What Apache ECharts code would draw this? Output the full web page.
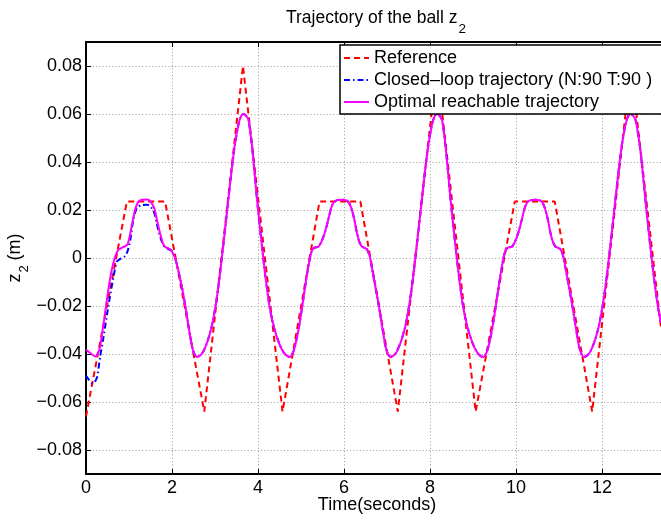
<!DOCTYPE html>
<html>
<head>
<meta charset="utf-8">
<script src="https://cdn.jsdelivr.net/npm/echarts@6/dist/echarts.min.js"></script>
<style>html,body{margin:0;padding:0;background:#fff}#c{width:661px;height:520px}</style>
</head>
<body>
<div id="c"></div>
<script>
const timeTicks = [0, 2, 4, 6, 8, 10, 12];
const timeTickLabels = ['0', '2', '4', '6', '8', '10', '12'];
const zTicks = [-0.08, -0.06, -0.04, -0.02, 0, 0.02, 0.04, 0.06, 0.08];
const zTickLabels = ['\u22120.08', '\u22120.06', '\u22120.04', '\u22120.02', '0', '0.02', '0.04', '0.06', '0.08'];
const seriesNames = ['Reference', 'Closed\u2013loop trajectory (N:90 T:90 )', 'Optimal reachable trajectory'];

const referenceTraj = [
  [0, -0.066], [0.95, 0.0235], [1.84, 0.0235], [2.75, -0.064], [3.65, 0.080],
  [4.57, -0.064], [5.43, 0.0235], [6.38, 0.0235], [7.25, -0.064], [8.16, 0.080],
  [9.06, -0.064], [9.97, 0.0235], [10.90, 0.0235], [11.77, -0.064], [12.67, 0.080],
  [13.37, -0.029]
];

const closedLoopStart = [
  [0.00, -0.0490], [0.06, -0.0506], [0.14, -0.0522], [0.20, -0.0518], [0.26, -0.0495],
  [0.33, -0.0410], [0.41, -0.0326], [0.52, -0.0200], [0.64, -0.0077], [0.72, -0.0014],
  [0.83, 0.0000], [0.91, 0.0008], [0.97, 0.0030], [1.03, 0.0076], [1.10, 0.0160],
  [1.18, 0.0208], [1.28, 0.0220], [1.40, 0.0222], [1.47, 0.0220], [1.54, 0.0205],
  [1.59, 0.0187], [1.65, 0.0140], [1.71, 0.0097], [1.77, 0.0065], [1.82, 0.0048],
  [1.94, 0.0035]
];

const optimalTraj = [
  [0.00, -0.0381], [0.07, -0.0392], [0.14, -0.0402], [0.22, -0.0410], [0.28, -0.0395],
  [0.33, -0.0368], [0.41, -0.0270], [0.52, -0.0132], [0.60, -0.0049], [0.68, 0.0007],
  [0.76, 0.0035], [0.87, 0.0046], [0.96, 0.0055], [1.01, 0.0085], [1.06, 0.0131],
  [1.14, 0.0200], [1.22, 0.0235], [1.30, 0.0243], [1.40, 0.0244], [1.48, 0.0240],
  [1.55, 0.0222], [1.60, 0.0200], [1.66, 0.0150], [1.72, 0.0105], [1.78, 0.0065],
  [1.84, 0.0046], [1.92, 0.0040], [1.98, 0.0033],
  [2.08, -0.0005], [2.16, -0.0062], [2.24, -0.0130], [2.31, -0.0200], [2.39, -0.0290],
  [2.46, -0.0365], [2.52, -0.0400], [2.58, -0.0412], [2.66, -0.0405], [2.73, -0.0389],
  [2.83, -0.0345], [2.93, -0.0280], [3.03, -0.0180], [3.12, -0.0060], [3.24, 0.0130],
  [3.36, 0.0326], [3.46, 0.0470], [3.55, 0.0560], [3.61, 0.0592], [3.66, 0.0600],
  [3.72, 0.0593], [3.78, 0.0575], [3.87, 0.0450], [3.97, 0.0256], [4.06, 0.0100],
  [4.16, -0.0060], [4.27, -0.0205], [4.38, -0.0295], [4.50, -0.0360], [4.60, -0.0395],
  [4.68, -0.0409], [4.74, -0.0412], [4.80, -0.0400], [4.86, -0.0368], [4.96, -0.0280],
  [5.04, -0.0187], [5.12, -0.0090], [5.20, -0.0007], [5.25, 0.0030], [5.31, 0.0043],
  [5.41, 0.0048], [5.48, 0.0070], [5.55, 0.0104], [5.62, 0.0150], [5.70, 0.0208],
  [5.76, 0.0232], [5.84, 0.0241], [5.94, 0.0243], [6.04, 0.0241], [6.11, 0.0232],
  [6.17, 0.0208], [6.24, 0.0160], [6.30, 0.0104], [6.36, 0.0065], [6.42, 0.0047],
  [6.53, 0.0037], [6.60, 0.0005], [6.67, -0.0062],
  [6.74, -0.0130], [6.81, -0.0200], [6.89, -0.0290], [6.96, -0.0365], [7.02, -0.0400],
  [7.08, -0.0412], [7.16, -0.0405], [7.23, -0.0389], [7.33, -0.0345], [7.43, -0.0280],
  [7.53, -0.0180], [7.62, -0.0060], [7.74, 0.0130], [7.86, 0.0326], [7.96, 0.0470],
  [8.05, 0.0560], [8.11, 0.0592], [8.16, 0.0600], [8.22, 0.0593], [8.28, 0.0575],
  [8.37, 0.0450], [8.47, 0.0256], [8.56, 0.0100], [8.66, -0.0060], [8.77, -0.0205],
  [8.88, -0.0295], [9.00, -0.0360], [9.10, -0.0395], [9.18, -0.0409], [9.24, -0.0412],
  [9.30, -0.0400], [9.36, -0.0368], [9.46, -0.0280], [9.54, -0.0187], [9.62, -0.0090],
  [9.70, -0.0007], [9.75, 0.0030], [9.81, 0.0043], [9.91, 0.0048], [9.98, 0.0070],
  [10.05, 0.0104], [10.12, 0.0150], [10.20, 0.0208], [10.26, 0.0232], [10.34, 0.0241],
  [10.44, 0.0243], [10.54, 0.0241], [10.61, 0.0232], [10.67, 0.0208], [10.74, 0.0160],
  [10.80, 0.0104], [10.86, 0.0065], [10.92, 0.0047], [11.03, 0.0037], [11.10, 0.0005],
  [11.17, -0.0062],
  [11.24, -0.0130], [11.31, -0.0200], [11.39, -0.0290], [11.46, -0.0365], [11.52, -0.0400],
  [11.58, -0.0412], [11.66, -0.0405], [11.73, -0.0389], [11.83, -0.0345], [11.93, -0.0280],
  [12.03, -0.0180], [12.12, -0.0060], [12.24, 0.0130], [12.36, 0.0326], [12.46, 0.0470],
  [12.55, 0.0560], [12.61, 0.0592], [12.66, 0.0600], [12.72, 0.0593], [12.78, 0.0575],
  [12.89, 0.0450], [13.00, 0.0256], [13.09, 0.0100], [13.19, -0.0060], [13.30, -0.0205],
  [13.37, -0.0270]
];

const closedLoopTraj = closedLoopStart.concat(optimalTraj.filter(p => p[0] >= 1.98));

const FONT = '"Liberation Sans", Arial, Helvetica, sans-serif';
const chart = echarts.init(document.getElementById('c'), null, { renderer: 'canvas' });

function labelFrom(ticks, labels) {
  return function (v) {
    const i = ticks.findIndex(t => Math.abs(t - v) < 1e-9);
    return i >= 0 ? labels[i] : '';
  };
}

const option = {
  animation: false,
  backgroundColor: '#fff',
  grid: { left: 86, top: 42, right: 0, bottom: 46, containLabel: false },
  xAxis: [{
    type: 'value', min: 0, max: 13.37, position: 'bottom',
    axisLine: { show: true, onZero: false, lineStyle: { color: '#000', width: 2 } },
    axisTick: { show: true, inside: true, length: 5, customValues: timeTicks, lineStyle: { color: '#000', width: 1 } },
    axisLabel: { show: true, customValues: timeTicks, formatter: labelFrom(timeTicks, timeTickLabels),
      margin: 5, fontSize: 18, fontFamily: FONT, color: '#000' },
    splitLine: { show: true, lineStyle: { color: '#9a9a9a', width: 1, type: [1, 2.3] } }
  }, {
    type: 'value', min: 0, max: 13.37, position: 'top',
    axisLine: { show: true, onZero: false, lineStyle: { color: '#000', width: 2 } },
    axisTick: { show: true, inside: true, length: 5, customValues: timeTicks, lineStyle: { color: '#000', width: 1 } },
    axisLabel: { show: false },
    splitLine: { show: false }
  }],
  yAxis: {
    type: 'value', min: -0.09, max: 0.09,
    axisLine: { show: true, onZero: false, lineStyle: { color: '#000', width: 2 } },
    axisTick: { show: true, inside: true, length: 5, customValues: zTicks, lineStyle: { color: '#000', width: 1 } },
    axisLabel: { show: true, customValues: zTicks, formatter: labelFrom(zTicks, zTickLabels),
      margin: 4, fontSize: 18, fontFamily: FONT, color: '#000' },
    splitLine: { show: true, lineStyle: { color: '#9a9a9a', width: 1, type: [1, 2.3] } }
  },
  legend: {
    show: true, orient: 'vertical', left: 343, top: 49, padding: 0, itemGap: 4,
    itemWidth: 25, itemHeight: 14, z: 20,
    itemStyle: { opacity: 0, borderWidth: 0 },
    textStyle: { fontSize: 18, fontFamily: FONT, color: '#000' },
    data: seriesNames
  },
  graphic: [
    { type: 'rect', z: 15, shape: { x: 340, y: 45, width: 400, height: 69 },
      style: { fill: '#fff', stroke: '#000', lineWidth: 1.5 } },
    { type: 'text', z: 20, x: 376, y: 9,
      style: { text: '{a|Trajectory of the ball z}{s|2}', align: 'center', verticalAlign: 'top',
        rich: {
          a: { fontSize: 17.5, fontFamily: FONT, fill: '#000', lineHeight: 20, verticalAlign: 'top' },
          s: { fontSize: 13.5, fontFamily: FONT, fill: '#000', lineHeight: 13, padding: [13, 0, 0, 1], verticalAlign: 'top' }
        } } },
    { type: 'text', z: 20, x: 377, y: 496,
      style: { text: 'Time(seconds)', align: 'center', verticalAlign: 'top', fontSize: 18, fontFamily: FONT, fill: '#000' } },
    { type: 'text', z: 20, x: 16, y: 258, rotation: Math.PI / 2,
      style: { text: '{a|z}{s|2}{a| (m)}', align: 'center', verticalAlign: 'middle',
        rich: {
          a: { fontSize: 18, fontFamily: FONT, fill: '#000', lineHeight: 20, verticalAlign: 'top' },
          s: { fontSize: 13, fontFamily: FONT, fill: '#000', lineHeight: 13, padding: [12, 0, 0, 1], verticalAlign: 'top' }
        } } }
  ],
  series: [
    { name: seriesNames[0], type: 'line', data: referenceTraj, symbol: 'none', smooth: false, z: 3,
      lineStyle: { color: '#ff0000', width: 2, type: [6, 4] }, itemStyle: { color: '#ff0000' } },
    { name: seriesNames[1], type: 'line', data: closedLoopTraj, symbol: 'none', smooth: 0.2, z: 4,
      lineStyle: { color: '#0000ff', width: 2, type: [6, 3, 1.5, 3] }, itemStyle: { color: '#0000ff' } },
    { name: seriesNames[2], type: 'line', data: optimalTraj, symbol: 'none', smooth: 0.2, z: 5,
      lineStyle: { color: '#ff00ff', width: 2 }, itemStyle: { color: '#ff00ff' } }
  ]
};
chart.setOption(option);
</script>
</body>
</html>
